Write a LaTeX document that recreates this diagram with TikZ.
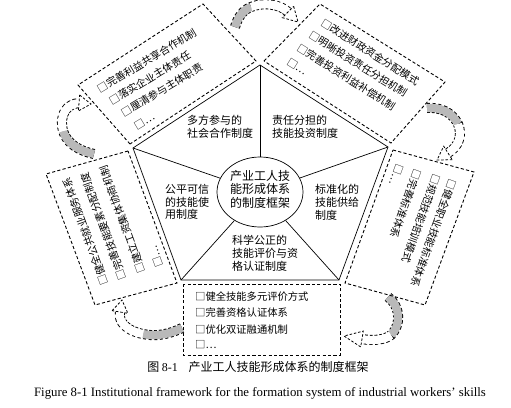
\documentclass[tikz,border=0pt]{standalone}
\usepackage{fontspec}
\setmainfont{Liberation Serif}
\newfontfamily\cjk{Noto Sans CJK SC}
\usetikzlibrary{shapes.geometric,calc}
\begin{document}
\begin{tikzpicture}[x=1pt,y=-1pt,
  dbox/.style={draw, line width=0.9pt, dash pattern=on 3.2pt off 2.2pt},
  pent/.style={draw, line width=0.7pt},
  lab/.style={font=\cjk\fontsize{11}{12.8}\selectfont, align=left, inner sep=0pt},
  item/.style={font=\cjk\fontsize{10.3}{12}\selectfont, inner sep=0pt, anchor=west},
  ribedge/.style={line width=10pt, dash pattern=on 3pt off 2.2pt},
  ribgray/.style={line width=8.2pt, draw=gray!55},
  ribwhite/.style={line width=8.2pt, draw=white},
  rhead/.style={line width=0.8pt, dash pattern=on 2.5pt off 1.8pt, fill=white},
]
\useasboundingbox (0,0) rectangle (511,407);

% ---------- curved ribbon arrows ----------
% A1 left -> top-left
\coordinate (a1s) at (94,154); \coordinate (a1j) at (63,131);
\coordinate (a1e) at (79,103); \coordinate (a1t) at (91,104);
\draw[ribedge] (a1s) .. controls (80,151) and (67,144) .. (a1j) .. controls (59,114) and (67,104) .. (a1e);
\draw[ribgray] (a1s) .. controls (80,151) and (67,144) .. (a1j);
\draw[ribwhite] (a1j) .. controls (59,114) and (67,104) .. (a1e);
\draw[rhead] ($(a1e)!8pt!90:(a1t)$) -- (a1t) -- ($(a1e)!8pt!-90:(a1t)$) -- cycle;
% A2 top-left -> top-right
\coordinate (a2s) at (235,27); \coordinate (a2j) at (251,7);
\coordinate (a2e) at (288,12); \coordinate (a2t) at (298,22);
\draw[ribedge] (a2s) .. controls (238,17) and (243,10) .. (a2j) .. controls (263,2) and (280,4) .. (a2e);
\draw[ribgray] (a2s) .. controls (238,17) and (243,10) .. (a2j);
\draw[ribwhite] (a2j) .. controls (263,2) and (280,4) .. (a2e);
\draw[rhead] ($(a2e)!8pt!90:(a2t)$) -- (a2t) -- ($(a2e)!8pt!-90:(a2t)$) -- cycle;
% A3 top-right -> right
\coordinate (a3s) at (427,108); \coordinate (a3j) at (458,124);
\coordinate (a3e) at (448,153); \coordinate (a3t) at (437,160);
\draw[ribedge] (a3s) .. controls (440,107) and (452,112) .. (a3j) .. controls (463,136) and (458,147) .. (a3e);
\draw[ribgray] (a3s) .. controls (440,107) and (452,112) .. (a3j);
\draw[ribwhite] (a3j) .. controls (463,136) and (458,147) .. (a3e);
\draw[rhead] ($(a3e)!8pt!90:(a3t)$) -- (a3t) -- ($(a3e)!8pt!-90:(a3t)$) -- cycle;
% A4 right -> bottom
\coordinate (a4s) at (388,297); \coordinate (a4j) at (391,335);
\coordinate (a4e) at (362,339); \coordinate (a4t) at (344,336);
\draw[ribedge] (a4s) .. controls (401,307) and (401,325) .. (a4j) .. controls (385,340) and (372,341) .. (a4e);
\draw[ribgray] (a4s) .. controls (401,307) and (401,325) .. (a4j);
\draw[ribwhite] (a4j) .. controls (385,340) and (372,341) .. (a4e);
\draw[rhead] ($(a4e)!8pt!90:(a4t)$) -- (a4t) -- ($(a4e)!8pt!-90:(a4t)$) -- cycle;
% A5 bottom -> left
\coordinate (a5s) at (182,328); \coordinate (a5j) at (143,334);
\coordinate (a5e) at (120,312); \coordinate (a5t) at (122,300);
\draw[ribedge] (a5s) .. controls (170,334) and (156,337) .. (a5j) .. controls (127,331) and (118,322) .. (a5e);
\draw[ribgray] (a5s) .. controls (170,334) and (156,337) .. (a5j);
\draw[ribwhite] (a5j) .. controls (127,331) and (118,322) .. (a5e);
\draw[rhead] ($(a5e)!8pt!90:(a5t)$) -- (a5t) -- ($(a5e)!8pt!-90:(a5t)$) -- cycle;

% ---------- pentagon ----------
\coordinate (T) at (260,65);
\coordinate (R) at (388,147);
\coordinate (BR) at (339,280);
\coordinate (BL) at (181,280);
\coordinate (L) at (133,148);
\draw[pent] (T) -- (R) -- (BR) -- (BL) -- (L) -- cycle;
\node[pent, ellipse, minimum width=86pt, minimum height=70pt, inner sep=0pt] (c) at (260,192) {};
\foreach \v in {T,R,BR,BL,L} \draw[pent] (c) -- (\v);
\node[font=\cjk\fontsize{12}{13.5}\selectfont, align=center, inner sep=0pt] (ct) at (260,189) {产业工人技\\能形成体系\\的制度框架};

\node[lab] (s1) at (220,127) {多方参与的\\社会合作制度};
\node[lab] (s2) at (305,127) {责任分担的\\技能投资制度};
\node[lab] (s3) at (337,202) {标准化的\\技能供给\\制度};
\node[lab] (s4) at (265,253) {科学公正的\\技能评价与资\\格认证制度};
\node[lab] (s5) at (187,202) {公平可信\\的技能使\\用制度};

% ---------- dashed boxes ----------
\draw[dbox] (130,144) -- (78,85) -- (203,4) -- (256,61) -- cycle;
\draw[dbox] (264,61) -- (320,4) -- (445,82) -- (391,143) -- cycle;
\draw[dbox] (393,150) -- (474,172) -- (425,305) -- (345,283) -- cycle;
\draw[dbox] (183,284) rectangle (340,355);
\draw[dbox] (128,151) -- (46,174) -- (95,305) -- (177,283) -- cycle;

% box 1 items
\node[item, rotate=31] (b1a) at (98,90) {□完善利益共享合作机制};
\node[item, rotate=31] (b1b) at (110,102) {□落实企业主体责任};
\node[item, rotate=31] (b1c) at (122,114) {□厘清参与主体职责};
\node[item, rotate=31] (b1d) at (135,127) {□…};
% box 2 items
\node[item, rotate=-32] (b2a) at (322,22) {□改进财政资金分配模式};
\node[item, rotate=-32] (b2b) at (310,34) {□明晰投资责任分担机制};
\node[item, rotate=-32] (b2c) at (298,47) {□完善投资利益补偿机制};
\node[item, rotate=-32] (b2d) at (288,61) {□…};
% box 3 items
\node[item, rotate=-110] (b3a) at (453,180) {□健全职业技能标准体系};
\node[item, rotate=-110] (b3b) at (437,175) {□规范技能培训模式};
\node[item, rotate=-110] (b3c) at (418,170) {□完善标准体系};
\node[item, rotate=-110] (b3d) at (400,165) {□…};
% box 4 items
\node[item] (b4a) at (195,297) {□健全技能多元评价方式};
\node[item] (b4b) at (195,313) {□完善资格认证体系};
\node[item] (b4c) at (195,330) {□优化双证融通机制};
\node[item] (b4d) at (195,345) {□…};
% box 5 items
\node[item, rotate=110] (b5a) at (105,285) {□健全公共就业服务体系};
\node[item, rotate=110] (b5b) at (123,280) {□完善技能要素分配制度};
\node[item, rotate=110] (b5c) at (142,273) {□建立工资集体协商机制};
\node[item, rotate=110] (b5d) at (160,267) {□…};

% ---------- captions ----------
\node[font=\cjk\fontsize{12}{14}\selectfont, inner sep=0pt] (cap1) at (258,367) {图 {\rmfamily 8-1}\hspace{0.9em}产业工人技能形成体系的制度框架};
\node[font=\fontsize{12.8}{14}\selectfont, inner sep=0pt] (cap2) at (260,393) {Figure 8-1 Institutional framework for the formation system of industrial workers' skills};
\end{tikzpicture}
\end{document}
